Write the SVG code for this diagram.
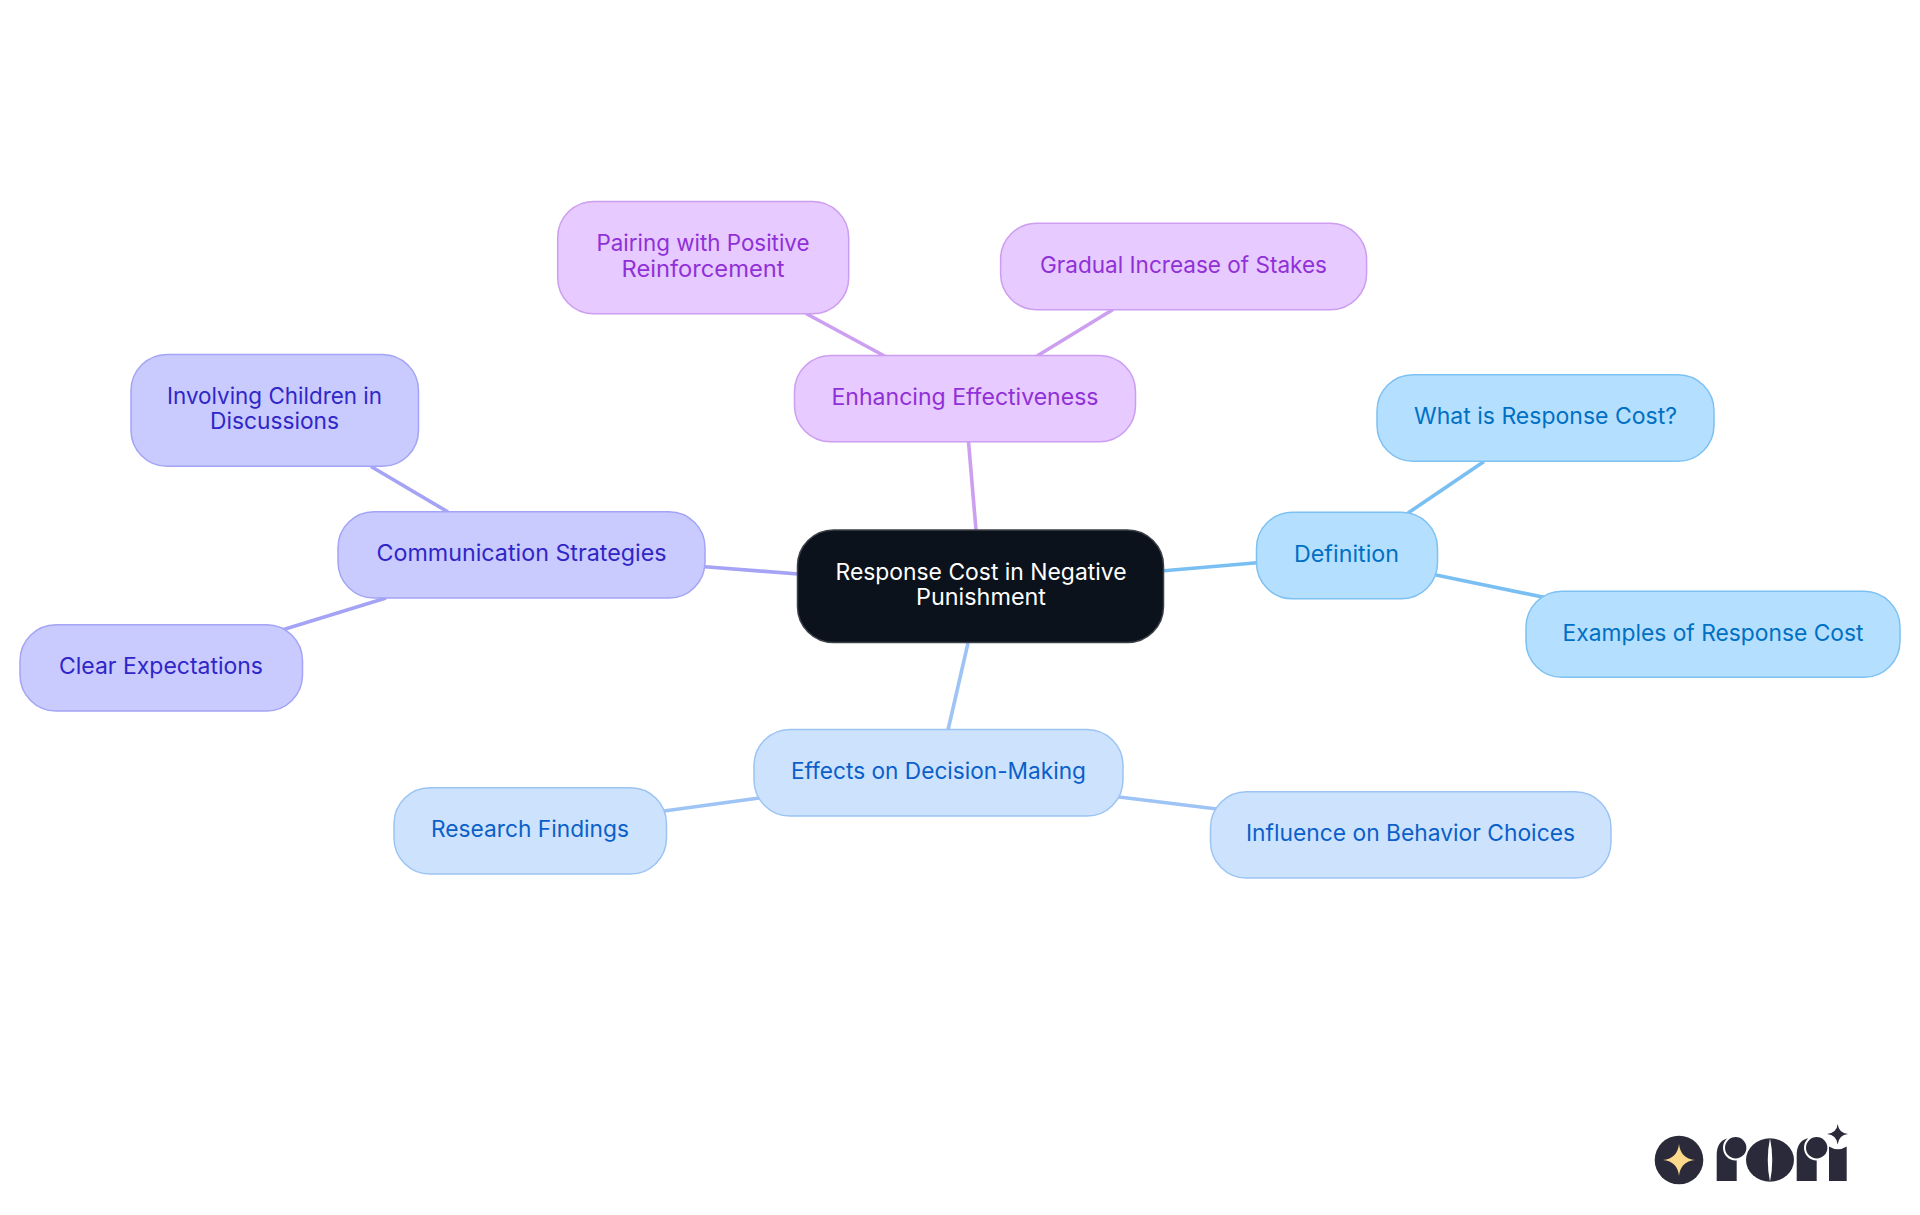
<svg xmlns="http://www.w3.org/2000/svg" width="1920" height="1215" viewBox="0 0 1920 1215">
<style>
text{font-family:"Inter","Noto Sans","Liberation Sans",sans-serif;font-size:22.5px;text-anchor:middle}
rect{stroke-width:1.5}
.root rect{fill:#0b121b;stroke:#3c4148}.root text{fill:#fff}
.a rect{fill:#b5dfff;stroke:#7dc1f2}.a text{fill:#0070c4}
.b rect{fill:#cde3fd;stroke:#9cc4f3}.b text{fill:#0b5fca}
.c rect{fill:#c9cbfe;stroke:#a3a4f5}.c text{fill:#3026c8}
.d rect{fill:#e7caff;stroke:#cc9df0}.d text{fill:#9030d8}
#connectors line{stroke-width:3.6;fill:none}
.ea{stroke:#7abff2}.eb{stroke:#9dc4f5}.ec{stroke:#a5a3f5}.ed{stroke:#cc9ff1}
.ink{fill:#2b2a3a}
.halo{fill:#2b2a3a;stroke:#fff;stroke-width:2}
</style>
<rect width="1920" height="1215" fill="#fff" style="stroke:none"/>
<g id="connectors">
<line class="ea" x1="1164" y1="570.7" x2="1257" y2="562.7"/>
<line class="ea" x1="1408" y1="513" x2="1484" y2="461.5"/>
<line class="ea" x1="1436" y1="575" x2="1545" y2="597.5"/>
<line class="eb" x1="968" y1="643" x2="948" y2="730"/>
<line class="eb" x1="761" y1="797.7" x2="664" y2="811"/>
<line class="eb" x1="1117" y1="796.7" x2="1217" y2="809"/>
<line class="ec" x1="705" y1="566.7" x2="798" y2="574"/>
<line class="ec" x1="448" y1="512" x2="371" y2="466.5"/>
<line class="ec" x1="386" y1="598" x2="282" y2="630"/>
<line class="ed" x1="976" y1="530" x2="968.5" y2="441.5"/>
<line class="ed" x1="884.5" y1="356" x2="806" y2="313.5"/>
<line class="ed" x1="1037" y1="356" x2="1113" y2="309.5"/>
</g>
<g id="root" class="root"><rect x="797.5" y="530" width="366" height="112.5" rx="36"/><text x="981" y="580" textLength="291" lengthAdjust="spacingAndGlyphs">Response Cost in Negative</text><text x="981" y="605" textLength="130" lengthAdjust="spacingAndGlyphs">Punishment</text></g>
<g id="definition" class="a"><rect x="1256.5" y="512.3" width="181" height="86.5" rx="36"/><text x="1346.5" y="561.7" textLength="105" lengthAdjust="spacingAndGlyphs">Definition</text></g>
<g id="what-is" class="a"><rect x="1377" y="374.7" width="337" height="86.6" rx="36"/><text x="1545.5" y="424" textLength="263" lengthAdjust="spacingAndGlyphs">What is Response Cost?</text></g>
<g id="examples" class="a"><rect x="1526" y="591.3" width="374" height="86" rx="36"/><text x="1713" y="641" textLength="301" lengthAdjust="spacingAndGlyphs">Examples of Response Cost</text></g>
<g id="effects" class="b"><rect x="754" y="729.5" width="369" height="86.5" rx="36"/><text x="938.5" y="779.3" textLength="295" lengthAdjust="spacingAndGlyphs">Effects on Decision-Making</text></g>
<g id="research" class="b"><rect x="394" y="787.7" width="272.5" height="86.3" rx="36"/><text x="530" y="836.7" textLength="198" lengthAdjust="spacingAndGlyphs">Research Findings</text></g>
<g id="influence" class="b"><rect x="1210.5" y="791.7" width="400.5" height="86.3" rx="36"/><text x="1410.5" y="840.7" textLength="329" lengthAdjust="spacingAndGlyphs">Influence on Behavior Choices</text></g>
<g id="communication" class="c"><rect x="338" y="511.7" width="367" height="86.3" rx="36"/><text x="521.5" y="561" textLength="290" lengthAdjust="spacingAndGlyphs">Communication Strategies</text></g>
<g id="involving" class="c"><rect x="131" y="354.5" width="287.5" height="111.8" rx="36"/><text x="274.5" y="404" textLength="215" lengthAdjust="spacingAndGlyphs">Involving Children in</text><text x="274.5" y="429" textLength="129" lengthAdjust="spacingAndGlyphs">Discussions</text></g>
<g id="clear" class="c"><rect x="20" y="624.7" width="282.5" height="86.3" rx="36"/><text x="161" y="674" textLength="204" lengthAdjust="spacingAndGlyphs">Clear Expectations</text></g>
<g id="enhancing" class="d"><rect x="794.5" y="355.5" width="341" height="86.2" rx="36"/><text x="965" y="405" textLength="267" lengthAdjust="spacingAndGlyphs">Enhancing Effectiveness</text></g>
<g id="pairing" class="d"><rect x="557.7" y="201.5" width="291" height="112.2" rx="36"/><text x="703" y="251" textLength="213" lengthAdjust="spacingAndGlyphs">Pairing with Positive</text><text x="703" y="276.7" textLength="163" lengthAdjust="spacingAndGlyphs">Reinforcement</text></g>
<g id="gradual" class="d"><rect x="1000.6" y="223.3" width="366" height="86.4" rx="36"/><text x="1183.5" y="272.7" textLength="287" lengthAdjust="spacingAndGlyphs">Gradual Increase of Stakes</text></g>
<g id="logo">
<circle class="ink" cx="1679" cy="1160" r="24.3"/>
<path fill="#fdd98c" d="M1679 1144Q1680.5 1158.5 1695 1160Q1680.5 1161.5 1679 1176Q1677.5 1161.5 1663 1160Q1677.5 1158.5 1679 1144Z"/>
<path class="ink" d="M1716.7 1181V1155Q1716.7 1141 1728.3 1138.3L1736.7 1160V1181Z"/>
<circle class="halo" cx="1735.7" cy="1147.7" r="11.7"/>
<ellipse class="ink" cx="1770" cy="1160" rx="24" ry="21.7"/>
<path fill="#fff" d="M1770 1138Q1765.5 1160 1770 1182Q1774.5 1160 1770 1138Z"/>
<path class="ink" d="M1796.7 1181V1155Q1796.7 1141 1808.3 1138.3L1816.7 1160V1181Z"/>
<circle class="halo" cx="1816.7" cy="1147.7" r="11.7"/>
<path class="ink" d="M1829 1181V1146.5Q1838 1152 1846.7 1146.5V1181Z"/>
<path class="ink" d="M1837.7 1124Q1838.7 1133 1848 1134Q1838.7 1135 1837.7 1144.5Q1836.7 1135 1827 1134Q1836.7 1133 1837.7 1124Z"/>
</g>
</svg>
